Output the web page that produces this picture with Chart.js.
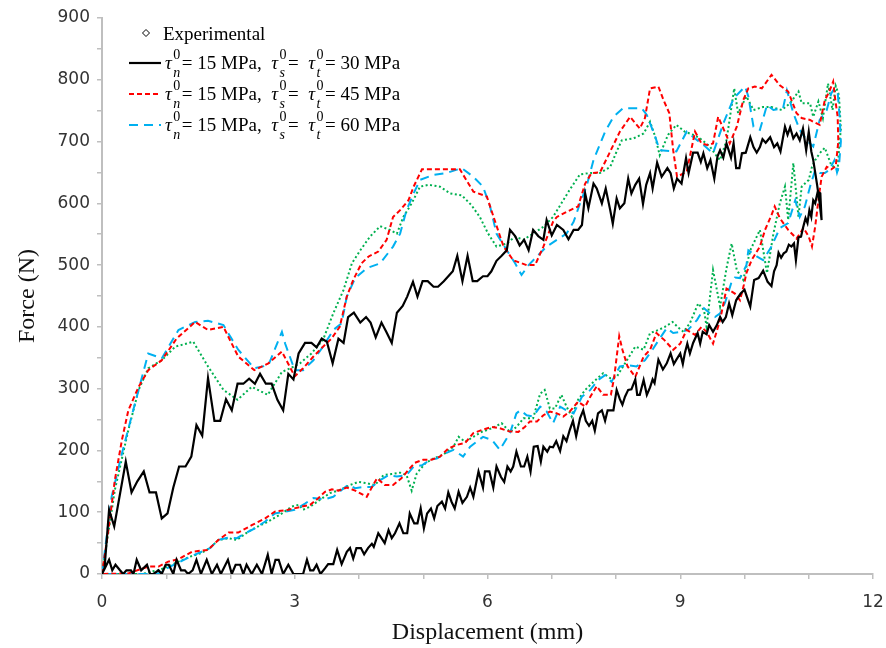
<!DOCTYPE html>
<html>
<head>
<meta charset="utf-8">
<script src="https://cdn.jsdelivr.net/npm/chart.js@4.4.1/dist/chart.umd.min.js"></script>
<style>
  html, body { margin: 0; padding: 0; background: #ffffff; }
  #wrap { width: 886px; height: 648px; }
</style>
</head>
<body>
<div id="wrap"><canvas id="graficaFuerza" width="886" height="648"></canvas></div>
<script>
// [displacement (mm), force (N)]; loading branch, then unloading back to 0
const experimental = [
  [0,0],[0.2,136],[0.41,233],[0.57,298],[0.72,333],[0.93,346],[1.14,368],[1.42,376],[1.65,336],[1.89,298],
  [2.11,282],[2.33,303],[2.58,290],[2.8,327],[2.93,333],[3.08,341],[3.26,357],[3.44,379],[3.6,422],[3.76,460],
  [3.89,503],[4.02,524],[4.17,546],[4.33,563],[4.48,557],[4.59,551],[4.69,578],[4.82,600],[4.95,627],[5.08,630],
  [5.26,627],[5.42,616],[5.6,613],[5.75,597],[5.88,578],[6.01,551],[6.14,530],[6.3,535],[6.43,546],[6.56,541],
  [6.71,551],[6.87,562],[7.02,578],[7.15,600],[7.28,622],[7.44,647],[7.6,649],[7.75,649],[7.91,659],[8.01,684],
  [8.09,702],[8.27,705],[8.43,713],[8.53,732],[8.61,708],[8.68,678],[8.81,711],[8.94,727],[9.07,716],[9.2,711],
  [9.31,705],[9.46,692],[9.57,676],[9.62,670],[9.72,702],[9.84,786],[9.9,746],[10.03,773],[10.14,751],[10.29,756],
  [10.42,756],[10.58,751],[10.71,762],[10.84,781],[10.89,762],[11.02,762],[11.07,740],[11.15,765],[11.22,738],[11.3,794],
  [11.37,751],[11.42,790],[11.47,775],[11.5,720],[11.48,700],[11.45,655],[11.35,662],[11.25,690],[11.17,681],[11.1,670],
  [11.05,659],[11.0,638],[10.89,627],[10.84,578],[10.76,665],[10.68,573],[10.63,627],[10.55,600],[10.45,551],[10.35,487],
  [10.24,557],[10.09,524],[9.98,476],[9.88,492],[9.8,535],[9.72,495],[9.62,433],[9.51,492],[9.41,400],[9.37,427],
  [9.28,438],[9.15,406],[9.05,392],[8.98,398],[8.88,408],[8.76,400],[8.66,395],[8.53,390],[8.43,363],[8.3,368],
  [8.17,346],[8.01,319],[7.91,317],[7.8,325],[7.65,311],[7.52,298],[7.41,282],[7.31,255],[7.23,271],[7.15,290],
  [7.05,268],[6.97,268],[6.89,298],[6.82,292],[6.71,252],[6.56,252],[6.45,238],[6.35,230],[6.22,244],[6.07,236],
  [5.91,230],[5.78,222],[5.65,214],[5.55,222],[5.47,206],[5.31,193],[5.16,187],[5.03,179],[4.9,163],[4.82,135],
  [4.74,160],[4.64,164],[4.51,162],[4.38,160],[4.25,144],[4.12,147],[3.99,149],[3.86,144],[3.7,136],[3.55,131],
  [3.39,120],[3.24,109],[3.13,104],[3.06,112],[2.95,109],[2.8,98],[2.59,85],[2.43,77],[2.28,69],[2.1,55],
  [1.97,58],[1.81,55],[1.68,42],[1.55,34],[1.37,28],[1.19,20],[1.03,12],[0.88,6],[0.75,4],[0.64,0],[0,0]
];

const shear30 = [
  [0,0],[0.04,10],[0.11,104],[0.19,77],[0.37,182],[0.46,132],[0.55,150],[0.65,166],[0.74,132],[0.84,132],
  [0.93,90],[1.02,98],[1.11,140],[1.2,174],[1.3,174],[1.39,190],[1.47,241],[1.56,224],[1.65,317],[1.75,248],
  [1.84,248],[1.93,283],[2.02,265],[2.11,308],[2.2,308],[2.29,316],[2.38,308],[2.46,324],[2.55,308],[2.64,308],
  [2.73,282],[2.82,265],[2.9,324],[2.98,315],[3.06,357],[3.16,374],[3.26,374],[3.34,367],[3.42,381],[3.5,376],
  [3.59,341],[3.68,381],[3.76,374],[3.83,416],[3.92,423],[4.02,407],[4.11,416],[4.18,407],[4.26,383],[4.35,407],
  [4.43,391],[4.51,374],[4.59,423],[4.68,434],[4.75,449],[4.84,473],[4.91,449],[4.99,474],[5.07,474],[5.16,465],
  [5.23,465],[5.32,474],[5.39,482],[5.46,490],[5.53,515],[5.61,474],[5.69,515],[5.77,474],[5.84,474],[5.93,482],
  [6.0,482],[6.06,490],[6.14,507],[6.22,515],[6.3,524],[6.35,557],[6.43,547],[6.5,532],[6.57,541],[6.64,524],
  [6.71,557],[6.79,547],[6.87,541],[6.92,573],[7.0,548],[7.08,565],[7.18,557],[7.26,542],[7.34,557],[7.41,557],
  [7.47,565],[7.52,616],[7.57,592],[7.65,632],[7.7,624],[7.78,600],[7.84,624],[7.91,589],[7.95,567],[8.01,608],
  [8.06,592],[8.13,600],[8.19,640],[8.24,616],[8.3,630],[8.36,640],[8.42,599],[8.47,630],[8.53,649],[8.57,624],
  [8.64,666],[8.71,643],[8.8,657],[8.85,649],[8.9,624],[8.95,640],[9.02,632],[9.09,673],[9.13,649],[9.2,682],
  [9.27,682],[9.32,667],[9.36,681],[9.42,657],[9.47,670],[9.53,640],[9.58,676],[9.62,686],[9.67,674],[9.72,697],
  [9.79,674],[9.83,697],[9.87,657],[9.92,657],[9.96,681],[10.02,682],[10.09,707],[10.14,691],[10.19,682],[10.24,691],
  [10.28,704],[10.33,698],[10.4,707],[10.46,691],[10.51,697],[10.56,684],[10.63,724],[10.67,711],[10.71,723],[10.76,705],
  [10.81,713],[10.86,702],[10.91,721],[10.96,686],[11.0,716],[11.04,684],[11.07,670],[11.1,650],[11.13,630],[11.17,600],
  [11.2,573],[11.18,616],[11.14,619],[11.1,600],[11.07,605],[11.04,578],[11.01,589],[10.98,568],[10.95,576],[10.91,560],
  [10.88,546],[10.84,545],[10.8,508],[10.77,535],[10.73,530],[10.69,533],[10.65,522],[10.61,519],[10.57,512],[10.53,520],
  [10.5,500],[10.46,490],[10.42,466],[10.36,473],[10.29,491],[10.22,479],[10.15,476],[10.09,433],[10.0,460],[9.94,454],
  [9.87,443],[9.81,419],[9.76,438],[9.71,416],[9.66,408],[9.62,416],[9.57,403],[9.51,392],[9.45,403],[9.41,388],
  [9.35,392],[9.31,373],[9.27,390],[9.2,374],[9.15,357],[9.11,373],[9.07,357],[9.04,340],[9.0,357],[8.94,347],
  [8.9,340],[8.85,357],[8.79,341],[8.73,331],[8.66,347],[8.6,309],[8.57,315],[8.53,302],[8.48,290],[8.43,314],
  [8.37,290],[8.33,290],[8.3,315],[8.24,299],[8.19,298],[8.14,287],[8.1,274],[8.06,283],[8.01,298],[7.96,265],
  [7.87,265],[7.83,248],[7.78,265],[7.72,260],[7.67,232],[7.63,248],[7.58,240],[7.53,248],[7.49,265],[7.44,252],
  [7.38,223],[7.33,248],[7.28,233],[7.23,215],[7.18,223],[7.13,199],[7.07,215],[7.02,205],[6.97,206],[6.93,198],
  [6.87,206],[6.83,182],[6.78,207],[6.72,206],[6.67,166],[6.62,190],[6.57,174],[6.52,174],[6.45,198],[6.4,174],
  [6.36,166],[6.31,174],[6.26,149],[6.21,157],[6.14,174],[6.09,140],[6.03,166],[5.96,166],[5.93,140],[5.86,166],
  [5.78,125],[5.73,140],[5.68,125],[5.61,115],[5.55,133],[5.49,106],[5.44,117],[5.39,132],[5.34,106],[5.29,117],
  [5.22,110],[5.17,90],[5.12,106],[5.06,98],[5.01,74],[4.96,106],[4.91,82],[4.86,82],[4.79,98],[4.75,66],
  [4.69,66],[4.63,82],[4.56,66],[4.51,58],[4.46,71],[4.4,50],[4.35,58],[4.3,66],[4.23,44],[4.2,49],
  [4.14,42],[4.08,32],[4.03,42],[3.96,42],[3.91,25],[3.86,42],[3.81,36],[3.73,16],[3.66,39],[3.6,16],
  [3.52,16],[3.47,9],[3.4,0],[3.34,15],[3.29,6],[3.24,6],[3.19,23],[3.13,0],[3.06,0],[2.98,0],
  [2.9,15],[2.82,0],[2.75,23],[2.7,23],[2.64,0],[2.58,31],[2.49,0],[2.41,15],[2.33,0],[2.25,15],
  [2.2,0],[2.15,15],[2.08,15],[2.02,0],[1.96,23],[1.85,0],[1.79,15],[1.71,0],[1.63,23],[1.54,0],
  [1.47,23],[1.41,6],[1.34,0],[1.29,6],[1.23,6],[1.16,23],[1.11,0],[1.04,15],[0.99,15],[0.93,0],
  [0.88,6],[0.8,0],[0.75,0],[0.7,15],[0.61,6],[0.54,23],[0.49,0],[0.45,6],[0.38,6],[0.33,0],
  [0.28,6],[0.21,15],[0.16,6],[0.11,23],[0,0]
];

const shear45 = [
  [0,0],[0.1,71],[0.2,152],[0.31,217],[0.41,265],[0.57,303],[0.72,330],[0.93,346],[1.16,381],[1.45,408],
  [1.65,395],[1.89,400],[2.12,352],[2.37,330],[2.59,341],[2.8,360],[3.0,320],[3.13,333],[3.29,352],[3.44,368],
  [3.57,381],[3.7,400],[3.81,449],[3.91,476],[4.04,503],[4.15,514],[4.3,522],[4.43,541],[4.53,578],[4.64,589],
  [4.77,605],[4.85,627],[4.98,655],[5.57,655],[5.78,619],[5.99,611],[6.12,570],[6.25,530],[6.4,508],[6.61,500],
  [6.74,500],[6.87,530],[7.02,570],[7.08,578],[7.23,586],[7.41,595],[7.52,632],[7.62,649],[7.75,650],[7.91,684],
  [8.06,716],[8.22,740],[8.37,721],[8.45,738],[8.53,786],[8.66,789],[8.74,767],[8.83,746],[8.89,686],[8.95,643],
  [9.1,651],[9.23,716],[9.33,697],[9.44,694],[9.51,697],[9.59,740],[9.68,719],[9.77,697],[9.88,724],[9.98,767],
  [10.06,786],[10.16,789],[10.27,786],[10.42,808],[10.55,791],[10.68,781],[10.81,746],[10.89,738],[11.02,735],[11.07,732],
  [11.17,727],[11.25,767],[11.32,781],[11.38,797],[11.41,770],[11.45,740],[11.46,700],[11.42,660],[11.35,655],[11.28,659],
  [11.2,643],[11.15,605],[11.1,562],[11.05,530],[11.0,546],[10.92,560],[10.81,543],[10.68,557],[10.55,576],[10.47,595],
  [10.42,581],[10.32,557],[10.24,530],[10.11,508],[10.03,487],[9.99,468],[9.93,443],[9.85,454],[9.72,462],[9.62,411],
  [9.51,373],[9.41,392],[9.33,400],[9.23,387],[9.1,395],[9.0,373],[8.89,363],[8.75,379],[8.63,390],[8.53,363],
  [8.43,352],[8.3,319],[8.18,336],[8.1,363],[8.05,385],[7.97,317],[7.92,290],[7.8,290],[7.7,304],[7.6,287],
  [7.52,271],[7.41,279],[7.28,263],[7.18,255],[7.08,260],[6.97,263],[6.87,257],[6.77,247],[6.66,247],[6.58,238],
  [6.48,230],[6.33,231],[6.19,236],[6.07,238],[5.91,233],[5.78,228],[5.65,212],[5.52,209],[5.39,203],[5.26,190],
  [5.13,185],[5.0,185],[4.87,180],[4.79,171],[4.66,155],[4.53,144],[4.4,144],[4.28,155],[4.22,144],[4.12,125],
  [3.94,135],[3.81,140],[3.68,135],[3.58,137],[3.47,133],[3.37,123],[3.24,112],[3.11,109],[2.9,104],[2.69,101],
  [2.54,90],[2.33,79],[2.12,67],[1.97,67],[1.81,55],[1.65,39],[1.4,36],[1.19,24],[1.03,20],[0.88,12],
  [0.72,12],[0.41,1],[0,0]
];

const shear60 = [
  [0,0],[0.15,125],[0.31,195],[0.46,255],[0.72,357],[0.93,349],[1.19,395],[1.45,408],[1.65,410],[1.89,403],
  [2.12,363],[2.37,333],[2.59,338],[2.8,392],[2.85,373],[3.0,330],[3.13,330],[3.29,346],[3.44,368],[3.6,395],
  [3.73,406],[3.81,449],[3.94,479],[4.12,495],[4.33,503],[4.53,530],[4.64,551],[4.74,589],[4.85,616],[4.95,638],
  [5.16,646],[5.36,649],[5.6,657],[5.78,643],[5.93,627],[6.04,595],[6.14,551],[6.3,524],[6.43,503],[6.53,484],
  [6.64,500],[6.77,514],[6.92,530],[7.08,541],[7.23,551],[7.34,570],[7.44,600],[7.54,627],[7.65,670],[7.83,716],
  [7.96,740],[8.11,754],[8.4,754],[8.48,743],[8.61,708],[8.68,686],[8.94,684],[9.1,716],[9.23,705],[9.39,692],
  [9.51,681],[9.67,729],[9.83,770],[10.01,789],[10.06,773],[10.14,724],[10.24,719],[10.35,759],[10.45,751],[10.6,754],
  [10.66,783],[10.76,746],[10.86,719],[10.97,702],[11.07,692],[11.17,735],[11.28,751],[11.35,778],[11.4,786],[11.45,780],
  [11.48,740],[11.5,700],[11.47,660],[11.44,650],[11.4,670],[11.32,654],[11.25,649],[11.17,649],[11.1,654],[11.02,627],
  [10.94,595],[10.86,578],[10.79,605],[10.68,568],[10.55,560],[10.42,530],[10.29,508],[10.19,514],[10.06,524],[10.03,500],
  [9.93,479],[9.85,480],[9.8,473],[9.7,440],[9.62,422],[9.54,416],[9.46,422],[9.37,430],[9.26,411],[9.12,395],
  [9.02,392],[8.89,390],[8.79,398],[8.68,381],[8.58,365],[8.45,346],[8.32,336],[8.19,338],[8.06,336],[7.93,311],
  [7.83,322],[7.72,314],[7.6,298],[7.47,287],[7.34,260],[7.23,265],[7.13,271],[7.02,244],[6.92,263],[6.82,271],
  [6.71,255],[6.61,257],[6.51,265],[6.45,260],[6.35,228],[6.19,201],[6.07,217],[5.93,222],[5.83,214],[5.73,206],
  [5.62,190],[5.47,201],[5.34,195],[5.21,187],[5.11,185],[4.98,176],[4.85,174],[4.74,160],[4.59,158],[4.46,160],
  [4.33,152],[4.2,141],[4.09,141],[3.94,139],[3.83,144],[3.73,136],[3.6,125],[3.47,121],[3.29,123],[3.16,114],
  [3.0,104],[2.85,101],[2.69,98],[2.54,85],[2.38,74],[2.23,66],[2.1,58],[1.97,59],[1.81,55],[1.68,42],
  [1.55,36],[1.37,28],[1.22,20],[1.06,12],[0.93,4],[0.86,0],[0.52,0],[0,0]
];

const seriesNames = ["Experimental", "τn0 = 15 MPa, τs0 = τt0 = 30 MPa", "τn0 = 15 MPa, τs0 = τt0 = 45 MPa", "τn0 = 15 MPa, τs0 = τt0 = 60 MPa"];
const normalStrength = "15";
const shearStrengths = ["30", "45", "60"];
const xTickLabels = [0, 3, 6, 9, 12];
const yTickLabels = [0, 100, 200, 300, 400, 500, 600, 700, 800, 900];

document.addEventListener("DOMContentLoaded", function () {
  const canvas = document.getElementById("graficaFuerza");
  if (!canvas || typeof Chart === "undefined") {
    return;
  }

  const toPoints = (pairs) => pairs.map((p) => ({ x: p[0], y: p[1] }));

  const serifFont = "'Liberation Serif', 'Times New Roman', serif";
  const sansFont = "'DejaVu Sans', Verdana, sans-serif";

  const styles = [
    { color: "#00b050", dash: [2, 2.5], width: 2 },
    { color: "#000000", dash: [], width: 2.2 },
    { color: "#ff0000", dash: [5, 3], width: 2 },
    { color: "#00b0f0", dash: [9, 6], width: 2 },
  ];

  const curves = [experimental, shear30, shear45, shear60];
  const drawOrder = [3, 0, 1, 2];

  const datasets = curves.map((curve, i) => ({
    label: seriesNames[i],
    data: toPoints(curve),
    showLine: true,
    borderColor: styles[i].color,
    backgroundColor: styles[i].color,
    borderWidth: styles[i].width,
    borderDash: styles[i].dash,
    pointRadius: 0,
    tension: 0,
    order: drawOrder[i],
  }));

  // legend with stacked sub/superscripts, drawn on the canvas
  const texLegend = {
    id: "texLegend",
    afterDraw(chart) {
      const ctx = chart.ctx;
      const mainFont = "19px " + serifFont;
      const italicFont = "italic 19px " + serifFont;
      const smallFont = "14px " + serifFont;
      const smallItalic = "italic 14px " + serifFont;
      ctx.save();
      ctx.fillStyle = "#000000";
      ctx.textBaseline = "alphabetic";
      ctx.textAlign = "left";

      // Experimental: open diamond
      const dy = 33;
      ctx.strokeStyle = "#000000";
      ctx.lineWidth = 1;
      ctx.setLineDash([]);
      ctx.beginPath();
      ctx.moveTo(146, dy - 3.5);
      ctx.lineTo(149.5, dy);
      ctx.lineTo(146, dy + 3.5);
      ctx.lineTo(142.5, dy);
      ctx.closePath();
      ctx.stroke();
      ctx.font = mainFont;
      ctx.fillText(seriesNames[0], 163, dy + 6.5);

      const tau = (x, y, sub) => {
        ctx.font = italicFont;
        ctx.fillText("τ", x, y + 6);
        x += ctx.measureText("τ").width + 1.5;
        ctx.font = smallFont;
        ctx.fillText("0", x, y - 4);
        const w0 = ctx.measureText("0").width;
        ctx.font = smallItalic;
        ctx.fillText(sub, x, y + 14);
        const w1 = ctx.measureText(sub).width;
        return x + Math.max(w0, w1) + 1.5;
      };
      const plain = (x, y, txt) => {
        ctx.font = mainFont;
        ctx.fillText(txt, x, y + 6);
        return x + ctx.measureText(txt).width;
      };

      shearStrengths.forEach((val, k) => {
        const st = styles[k + 1];
        const y = 63 + k * 31;
        ctx.strokeStyle = st.color;
        ctx.lineWidth = st.width;
        ctx.setLineDash(st.dash);
        ctx.beginPath();
        ctx.moveTo(129, y);
        ctx.lineTo(161, y);
        ctx.stroke();
        ctx.setLineDash([]);
        let x = 165;
        x = tau(x, y, "n");
        x = plain(x, y, "= " + normalStrength + " MPa,  ");
        x = tau(x, y, "s");
        x = plain(x, y, "=  ");
        x = tau(x, y, "t");
        plain(x, y, "= " + val + " MPa");
      });
      ctx.restore();
    },
  };

  new Chart(canvas, {
    type: "scatter",
    data: { datasets: datasets },
    plugins: [texLegend],
    options: {
      responsive: false,
      animation: false,
      layout: { padding: { top: 18, right: 13, left: 0, bottom: 0 } },
      plugins: {
        legend: { display: false },
        tooltip: { enabled: false },
      },
      scales: {
        x: {
          type: "linear",
          min: 0,
          max: 12,
          afterFit: (scale) => {
            scale.height = 74;
            scale.paddingLeft = 0;
            scale.paddingRight = 0;
          },
          ticks: {
            stepSize: 1,
            autoSkip: false,
            maxRotation: 0,
            padding: 13,
            color: "#333333",
            font: { family: sansFont, size: 17 },
            callback: (v) => (xTickLabels.includes(v) ? String(v) : ""),
          },
          grid: { drawOnChartArea: false, drawTicks: true, tickLength: 5, color: "#bfbfbf", lineWidth: 1.5 },
          border: { display: true, color: "#bfbfbf", width: 2 },
          title: {
            display: true,
            text: "Displacement (mm)",
            color: "#111111",
            font: { family: serifFont, size: 24 },
            padding: { top: 0, bottom: 1 },
          },
        },
        y: {
          type: "linear",
          min: 0,
          max: 900,
          afterFit: (scale) => {
            scale.width = 102;
            scale.paddingTop = 0;
            scale.paddingBottom = 0;
          },
          ticks: {
            stepSize: 50,
            autoSkip: false,
            padding: 7,
            color: "#333333",
            font: { family: sansFont, size: 17 },
            callback: (v) => (yTickLabels.includes(v) ? String(v) : ""),
          },
          grid: { drawOnChartArea: false, drawTicks: true, tickLength: 5, color: "#bfbfbf", lineWidth: 1.5 },
          border: { display: true, color: "#bfbfbf", width: 2 },
          title: {
            display: true,
            text: "Force (N)",
            color: "#111111",
            font: { family: serifFont, size: 24 },
            padding: { top: 13, bottom: 0 },
          },
        },
      },
    },
  });
});
</script>
</body>
</html>
